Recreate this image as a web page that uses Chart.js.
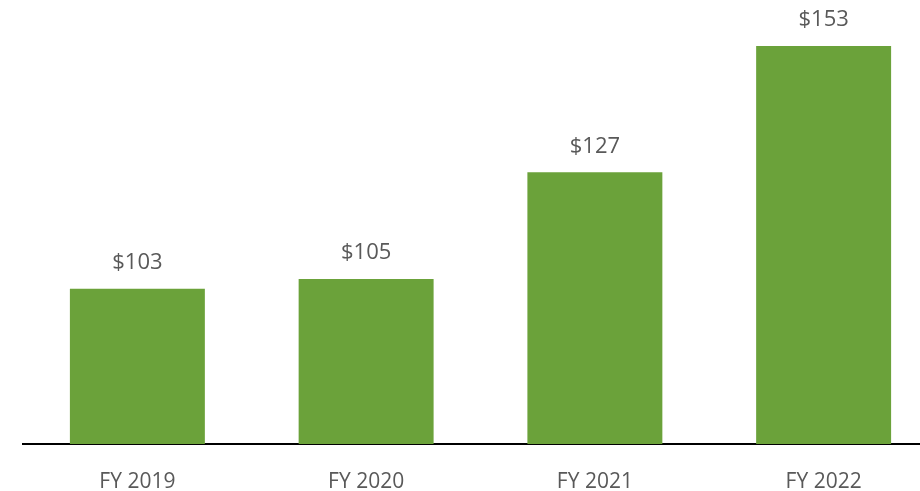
<!DOCTYPE html>
<html>
<head>
<meta charset="utf-8">
<script src="https://cdn.jsdelivr.net/npm/chart.js@4.4.0/dist/chart.umd.min.js"></script>
<style>
    html, body { margin: 0; padding: 0; background: #fff; overflow: hidden; }
    #wrap { width: 920px; height: 491px; overflow: hidden; }
</style>
</head>
<body>
<div id="wrap"><canvas id="revenueChart" width="940" height="491"></canvas></div>
<script>
var categories = ['FY 2019', 'FY 2020', 'FY 2021', 'FY 2022'];
var revenue = [103, 105, 127, 153];
var valueLabels = ['$103', '$105', '$127', '$153'];

var barLabels = {
    id: 'barLabels',
    afterDatasetsDraw: function(chart) {
        var ctx = chart.ctx;
        var meta = chart.getDatasetMeta(0);
        ctx.save();
        ctx.font = '22px "Open Sans", sans-serif';
        ctx.fillStyle = '#595959';
        ctx.textAlign = 'center';
        ctx.textBaseline = 'middle';
        meta.data.forEach(function(bar, i) {
            ctx.fillText(valueLabels[i], bar.x, bar.y - 26);
        });
        ctx.restore();
    }
};

document.addEventListener('DOMContentLoaded', function() {
    var ctx = document.getElementById('revenueChart').getContext('2d');

    new Chart(ctx, {
        type: 'bar',
        data: {
            labels: categories,
            datasets: [{
                data: revenue,
                backgroundColor: '#6ba23a',
                borderWidth: 0,
                categoryPercentage: 1,
                barPercentage: 0.59
            }]
        },
        options: {
            responsive: false,
            animation: false,
            layout: {
                padding: { left: 23, right: 2, top: 0, bottom: 0 }
            },
            plugins: {
                legend: { display: false },
                tooltip: { enabled: false }
            },
            scales: {
                x: {
                    grid: { display: false },
                    border: { display: true, color: '#000', width: 2 },
                    ticks: {
                        color: '#595959',
                        padding: 17,
                        font: { family: 'Open Sans', size: 21 }
                    },
                    afterFit: function(scale) { scale.height = 47; }
                },
                y: {
                    display: false,
                    min: 71,
                    max: 162.5
                }
            }
        },
        plugins: [barLabels]
    });
});
</script>
</body>
</html>
